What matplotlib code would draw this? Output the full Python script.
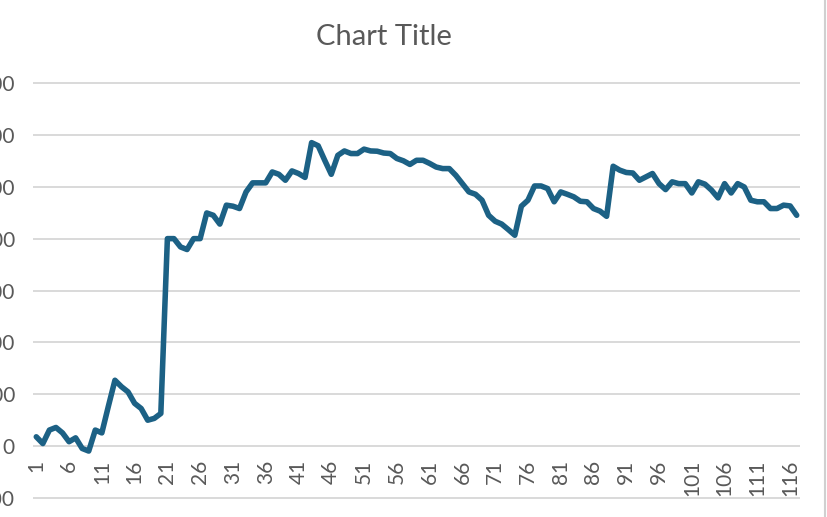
import matplotlib
matplotlib.use("Agg")
import matplotlib.pyplot as plt
from matplotlib.lines import Line2D

plt.rcParams['font.family'] = ['Lato', 'DejaVu Sans']

# valeurs (une par catégorie, 1..117)
valeurs = [36, 10, 62, 72, 51, 17, 32, -9, -19, 62,
           51, 154, 254, 229, 209, 165, 145, 100, 107, 126,
           800, 800, 768, 758, 800, 800, 899, 890, 856, 929,
           925, 916, 980, 1015, 1015, 1015, 1057, 1048, 1025, 1061,
           1051, 1036, 1170, 1158, 1102, 1048, 1121, 1138, 1128, 1128,
           1145, 1138, 1137, 1130, 1128, 1109, 1100, 1086, 1102, 1102,
           1090, 1076, 1070, 1070, 1044, 1012, 980, 971, 948, 890,
           867, 856, 835, 813, 925, 948, 1003, 1003, 993, 942,
           980, 971, 961, 944, 942, 916, 906, 886, 1079, 1064,
           1055, 1053, 1025, 1038, 1051, 1012, 989, 1019, 1012, 1012,
           976, 1019, 1010, 987, 957, 1012, 976, 1012, 999, 948,
           942, 942, 916, 916, 929, 926, 890]
categories = list(range(1, len(valeurs) + 1))
graduations_y = [-200, 0, 200, 400, 600, 800, 1000, 1200, 1400]
graduations_x = categories[::5]
titre = "Chart Title"

gris_texte = '#595959'
gris_grille = '#d9d9d9'
bleu = '#1c6185'

fig = plt.figure(figsize=(8.28, 5.17), dpi=100)
ax = fig.add_axes([0.03986, 0.0317, 0.9263, 0.8128])

for s in ax.spines.values():
    s.set_visible(False)
# l'axe des catégories croise à 0 comme dans Excel
ax.spines['bottom'].set_position(('data', 0))

ax.plot(categories, valeurs, color=bleu, lw=4.0,
        solid_joinstyle='round', solid_capstyle='round', zorder=3)

ax.set_xlim(0.5, len(categories) + 0.5)
ax.set_ylim(-210, 1410)
ax.set_yticks(graduations_y)
ax.set_yticklabels([str(v) for v in graduations_y])
ax.set_xticks(graduations_x)
ax.set_xticklabels([str(c) for c in graduations_x])

ax.yaxis.grid(True, color=gris_grille, lw=1.4)
ax.set_axisbelow(True)

ax.tick_params(axis='y', length=0, pad=13, labelsize=15, labelcolor=gris_texte)
ax.tick_params(axis='x', length=0, pad=10, labelsize=15, labelcolor=gris_texte,
               labelrotation=90)

fig.text(383.5 / 828, 1 - 45 / 517, titre, ha='center', va='baseline',
         fontsize=21, color=gris_texte)

# bordure de la zone du graphique à droite
fig.add_artist(Line2D([825 / 828, 825 / 828], [0, 1], color='#d0d0d0', lw=1.5))

fig.savefig('out.png', dpi=100)
